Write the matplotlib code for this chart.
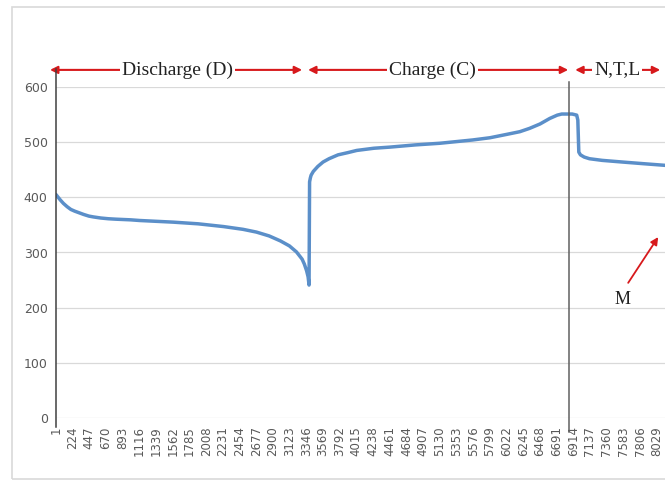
import numpy as np
import matplotlib
matplotlib.use('Agg')
import matplotlib.pyplot as plt
from matplotlib.patches import Rectangle

# sample index vs value
sample = [1, 30, 60, 100, 150, 200, 250, 310, 370, 440, 500, 600, 700, 800,
          1000, 1120, 1570, 1900, 2240, 2500, 2680, 2850, 3000, 3120, 3215,
          3290, 3320, 3350, 3370, 3383, 3390, 3400, 3410, 3440, 3500, 3570,
          3650, 3770, 3900, 4020, 4250, 4460, 4800, 5130, 5570, 5800, 6020,
          6200, 6330, 6470, 6600, 6700, 6760, 6900, 6960, 6975, 6988, 7010,
          7060, 7130, 7300, 7570, 7850, 8140]
value = [405, 400, 395, 389, 383, 378, 375, 372, 369, 366, 364.5, 362.5, 361.2, 360.4,
         359.2, 358, 355, 352, 347, 342, 337, 330, 321, 312, 301,
         288, 279, 267, 256, 241, 428, 435, 440, 447, 456, 464,
         470, 477, 481, 485, 489, 491, 495, 498, 504, 508, 514,
         519, 525, 533, 543, 549, 551, 551, 549, 540, 482, 477,
         473, 470, 467, 464, 461, 458]

xticks = list(range(1, 8030, 223))
yticks = [0, 100, 200, 300, 400, 500, 600]

# phase labels: (text, left end, right end, centre)
phases = [('Discharge (D)', -79, 3290, 1619),
          ('Charge (C)', 3370, 6846, 5028),
          ('N,T,L', 6940, 8076, 7501)]
split_at = 6862

fig = plt.figure(figsize=(6.65, 4.8), dpi=100)
fig.patches.append(Rectangle((12/665, 1/480), 1.0, 472/480, transform=fig.transFigure,
                             fill=False, edgecolor='#d9d9d9', lw=1.2))
ax = fig.add_axes([56/665, 62/480, 609/665, 331/480])

ax.plot(sample, value, color='#5b8fc9', lw=2.5, solid_capstyle='round',
        solid_joinstyle='round', zorder=3)

ax.set_xlim(1, 8140)
ax.set_ylim(0, 600)
ax.set_xticks(xticks)
ax.set_xticklabels([str(t) for t in xticks], rotation=90, fontsize=8.5, color='#595959')
ax.set_yticks(yticks)
ax.set_yticklabels([str(t) for t in yticks], fontsize=9, color='#595959')
ax.tick_params(length=0, pad=6)
ax.grid(axis='y', color='#d9d9d9', lw=0.9)
ax.set_axisbelow(True)
for sp in ax.spines.values():
    sp.set_visible(False)

# dark vertical markers
ax.plot([1, 1], [-17, 632], color='#404040', lw=1.1, clip_on=False, zorder=4)
ax.plot([split_at, split_at], [-25, 609], color='#606060', lw=1.1, clip_on=False, zorder=4)

red = '#d7191c'
for txt, x0, x1, xc in phases:
    ax.annotate('', xy=(x0, 631), xytext=(x1, 631), annotation_clip=False,
                arrowprops=dict(arrowstyle='<|-|>', color=red, lw=1.5,
                                mutation_scale=11, shrinkA=0, shrinkB=0))
    ax.text(xc, 631, txt, ha='center', va='center', fontsize=14,
            family='Liberation Serif', color='#222222', clip_on=False,
            bbox=dict(boxstyle='square,pad=0.1', fc='white', ec='none'))

ax.annotate('', xy=(8049, 328), xytext=(7648, 245), annotation_clip=False,
            arrowprops=dict(arrowstyle='-|>', color=red, lw=1.3,
                            mutation_scale=11, shrinkA=0, shrinkB=0))
ax.text(7568, 214, 'M', ha='center', va='center', fontsize=13,
        family='Liberation Serif', color='#222222')

fig.savefig('out.png', dpi=100)
